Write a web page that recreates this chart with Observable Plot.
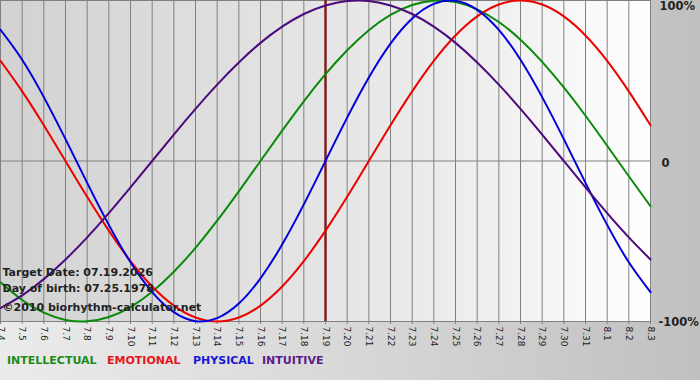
<!DOCTYPE html>
<html>
<head>
<meta charset="utf-8">
<script src="https://cdn.jsdelivr.net/npm/d3@7"></script>
<script src="https://cdn.jsdelivr.net/npm/@observablehq/plot@0.6"></script>
<style>
  html, body { margin: 0; padding: 0; }
  #wrap { position: relative; width: 700px; height: 380px; overflow: hidden;
    background: linear-gradient(to right, #ebebeb 0%, #d8d8d8 50%, #c0c0c0 100%);
    font-family: "DejaVu Sans", Verdana, sans-serif; }
  #legend { position: absolute; top: 354px; left: 0; width: 700px; height: 16px;
    font: bold 11px "DejaVu Sans", Verdana, sans-serif; }
  #legend span { position: absolute; top: 0; white-space: nowrap; }
</style>
</head>
<body>
<svg width="0" height="0" style="position:absolute">
  <defs>
    <linearGradient id="bg" x1="0" x2="1" y1="0" y2="0">
      <stop offset="0" stop-color="#d2d2d2"/>
      <stop offset="0.5" stop-color="#e5e5e5"/>
      <stop offset="0.75" stop-color="#efefef"/>
      <stop offset="1" stop-color="#ffffff"/>
    </linearGradient>
  </defs>
</svg>
<div id="wrap">
  <div id="chart"></div>
  <div id="legend"></div>
</div>
<script>
const days = ["7.4","7.5","7.6","7.7","7.8","7.9","7.10","7.11","7.12","7.13","7.14","7.15","7.16","7.17","7.18","7.19","7.20","7.21","7.22","7.23","7.24","7.25","7.26","7.27","7.28","7.29","7.30","7.31","8.1","8.2","8.3"];
const intellectual = [-75.6,-86.6,-94.5,-99.0,-99.9,-97.2,-91.0,-81.5,-69.0,-54.1,-37.2,-18.9,0,18.9,37.2,54.1,69.0,81.5,91.0,97.2,99.9,99.0,94.5,86.6,75.6,61.8,45.8,28.2,9.5,-9.5,-28.2];
const emotional = [62.4,43.4,22.3,0,-22.3,-43.4,-62.4,-78.2,-90.1,-97.5,-100,-97.5,-90.1,-78.2,-62.4,-43.4,-22.3,0,22.3,43.4,62.4,78.2,90.1,97.5,100,97.5,90.1,78.2,62.4,43.4,22.3];
const physical = [81.7,63.1,39.8,13.6,-13.6,-39.8,-63.1,-81.7,-94.2,-99.8,-97.9,-88.8,-73.1,-52.0,-27.0,0,27.0,52.0,73.1,88.8,97.9,99.8,94.2,81.7,63.1,39.8,13.6,-13.6,-39.8,-63.1,-81.7];
const intuitive = [-91.6,-83.7,-73.6,-61.4,-47.6,-32.5,-16.5,0,16.5,32.5,47.6,61.4,73.6,83.7,91.6,96.9,99.7,99.7,96.9,91.6,83.7,73.6,61.4,47.6,32.5,16.5,0,-16.5,-32.5,-47.6,-61.4];
const seriesNames = ["INTELLECTUAL","EMOTIONAL","PHYSICAL","INTUITIVE"];
const seriesColors = ["#0a8a0a","#ee0000","#0000dd","#4b0a7e"];
const legendColors = ["#1a8c1a","#e8141e","#1818d8","#5a1a8a"];
const targetDay = "7.19";
const infoLines = ["Target Date: 07.19.2026","Day of birth: 07.25.1978","©2010 biorhythm-calculator.net"];
const yLabels = [{v:100,t:"100%"},{v:0,t:"0"},{v:-100,t:"-100%"}];

const idx = days.map((d, i) => i);
const last = days.length - 1;
const seriesValues = [intellectual, emotional, physical, intuitive];
const rows = seriesNames.flatMap((name, s) => days.map((d, i) => ({series: name, i, value: seriesValues[s][i]})));

const font = "DejaVu Sans, Verdana, sans-serif";
const chart = Plot.plot({
  width: 700,
  height: 350,
  marginLeft: 0,
  marginRight: 50,
  marginTop: 0,
  marginBottom: 29,
  style: {background: "transparent", fontFamily: font},
  x: {type: "linear", domain: [0, last], axis: null, label: null},
  y: {domain: [-100, 100], axis: null, label: null},
  color: {domain: seriesNames, range: seriesColors},
  marks: [
    Plot.frame({fill: "url(#bg)", stroke: "none"}),
    Plot.ruleX(idx, {stroke: "#808080", strokeWidth: 1}),
    Plot.ruleY([0], {stroke: "#808080", strokeWidth: 1}),
    Plot.frame({stroke: "#808080", strokeWidth: 1}),
    Plot.axisX({ticks: idx, tickFormat: i => days[i], label: null, tickRotate: 90, tickSize: 3, tickPadding: 2, fontSize: 9, stroke: "#808080", fill: "#222", fontFamily: font}),
    Plot.ruleX([days.indexOf(targetDay)], {stroke: "#7e1e1e", strokeWidth: 2.5}),
    Plot.line(rows, {x: "i", y: "value", z: "series", stroke: "series", strokeWidth: 2, curve: "natural"}),
    Plot.text([yLabels[0]], {x: () => last, y: "v", text: "t", textAnchor: "start", lineAnchor: "top", dx: 9, dy: 1, fontSize: 11.5, fontWeight: "bold", fill: "#222"}),
    Plot.text([yLabels[1]], {x: () => last, y: "v", text: "t", textAnchor: "start", dx: 11, dy: 2, fontSize: 11.5, fontWeight: "bold", fill: "#222"}),
    Plot.text([yLabels[2]], {x: () => last, y: "v", text: "t", textAnchor: "start", dx: 8, dy: 1, fontSize: 11.5, fontWeight: "bold", fill: "#222"}),
    Plot.text([infoLines[0]], {frameAnchor: "top-left", text: d => d, dx: 2, dy: 272, lineAnchor: "middle", fontSize: 11, fontWeight: "bold", fill: "#222"}),
    Plot.text([infoLines[1]], {frameAnchor: "top-left", text: d => d, dx: 2, dy: 288, lineAnchor: "middle", fontSize: 11, fontWeight: "bold", fill: "#222"}),
    Plot.text([infoLines[2]], {frameAnchor: "top-left", text: d => d, dx: 2, dy: 307, lineAnchor: "middle", fontSize: 11, fontWeight: "bold", fill: "#222"})
  ]
});
document.getElementById("chart").appendChild(chart);

const legendLeft = [7, 107, 193, 262];
const legend = document.getElementById("legend");
seriesNames.forEach((n, i) => {
  const s = document.createElement("span");
  s.textContent = n;
  s.style.left = legendLeft[i] + "px";
  s.style.color = legendColors[i];
  legend.appendChild(s);
});
</script>
</body>
</html>
